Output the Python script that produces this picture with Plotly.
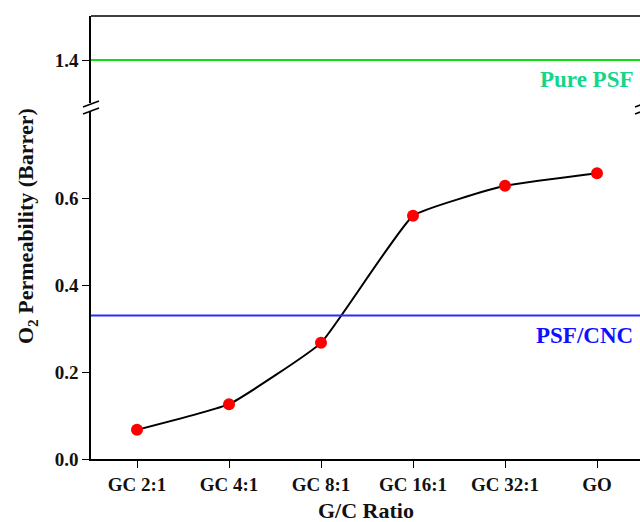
import plotly.graph_objects as go

categories = ["GC 2:1", "GC 4:1", "GC 8:1", "GC 16:1", "GC 32:1", "GO"]
permeability = [0.067, 0.126, 0.267, 0.559, 0.628, 0.657]
pure_psf = 1.4
psf_cnc = 0.33
lower_ticks = [0.0, 0.2, 0.4, 0.6]
upper_ticks = [1.4]

W, H = 640, 522
ml, mr, mt, mb = 91, 0, 16, 63
ph = H - mt - mb
lower_top_px = 111
upper_bot_px = 103
d_low = (H - mb - lower_top_px) / ph
d_up = 1 - (upper_bot_px - mt) / ph

font = "Liberation Serif"
xs = list(range(len(categories)))

fig = go.Figure()
fig.add_trace(go.Scatter(
    x=xs, y=permeability, mode="lines+markers",
    line=dict(color="black", width=2, shape="spline", smoothing=0.35),
    marker=dict(color="red", size=12),
    xaxis="x", yaxis="y", showlegend=False))
fig.add_trace(go.Scatter(
    x=[-0.5, 5.5], y=[psf_cnc, psf_cnc], mode="lines",
    line=dict(color="#2b2bff", width=2), xaxis="x", yaxis="y", showlegend=False))
fig.add_trace(go.Scatter(
    x=[-0.5, 5.5], y=[pure_psf, pure_psf], mode="lines",
    line=dict(color="#11dd11", width=2), xaxis="x2", yaxis="y2", showlegend=False))

xr = [-0.5, -0.5 + (W - ml - mr) / 92.0]
tickfont = dict(family=font, size=19, color="#111", weight="bold")
fig.update_layout(
    width=W, height=H, margin=dict(l=ml, r=mr, t=mt, b=mb),
    plot_bgcolor="white", paper_bgcolor="white",
    xaxis=dict(range=xr, tickmode="array", tickvals=xs, ticktext=categories,
               showline=True, linecolor="black", linewidth=1.5, ticks="outside",
               ticklen=7, tickcolor="black", showgrid=False, zeroline=False,
               tickfont=tickfont, anchor="y"),
    xaxis2=dict(range=xr, overlaying="x", anchor="y2", visible=False, showline=False, ticks=""),
    yaxis=dict(range=[0, (H - mb - lower_top_px) / 435.0], domain=[0, d_low],
               tickmode="array", tickvals=lower_ticks, ticktext=["%.1f" % v for v in lower_ticks],
               showline=True, linecolor="black", linewidth=1.5, ticks="outside", ticklen=7,
               tickcolor="black", showgrid=False, zeroline=False, tickfont=tickfont),
    yaxis2=dict(range=[1.4 - (upper_bot_px - 60) / 435.0, 1.4 + (60 - mt) / 435.0], domain=[d_up, 1],
                tickmode="array", tickvals=upper_ticks, ticktext=["%.1f" % v for v in upper_ticks],
                showline=True, linecolor="black", linewidth=1.5, ticks="outside", ticklen=7,
                tickcolor="black", showgrid=False, zeroline=False, tickfont=tickfont,
                anchor="x2"),
)

# top spine
fig.add_shape(type="line", xref="paper", yref="paper", x0=0, x1=1, y0=1, y1=1,
              line=dict(color="black", width=1.5))

def px_to_paper_x(px):
    return (px - ml) / (W - ml - mr)

def px_to_paper_y(py):
    return (H - mb - py) / ph

for cx in (91, 643):
    for cy in (104, 111):
        fig.add_shape(type="line", xref="paper", yref="paper",
                      x0=px_to_paper_x(cx - 8), y0=px_to_paper_y(cy + 3),
                      x1=px_to_paper_x(cx + 8), y1=px_to_paper_y(cy - 3),
                      line=dict(color="black", width=1.5))

fig.add_annotation(text="Pure PSF", xref="paper", yref="paper",
                   x=px_to_paper_x(635), y=px_to_paper_y(80), xanchor="right", yanchor="middle",
                   showarrow=False, font=dict(family=font, size=23, color="#14d68a", weight="bold"))
fig.add_annotation(text="PSF/CNC", xref="paper", yref="paper",
                   x=px_to_paper_x(635), y=px_to_paper_y(335), xanchor="right", yanchor="middle",
                   showarrow=False, font=dict(family=font, size=23, color="#1010ff", weight="bold"))
fig.add_annotation(text="G/C Ratio", xref="paper", yref="paper",
                   x=px_to_paper_x(366), y=px_to_paper_y(510), xanchor="center", yanchor="middle",
                   showarrow=False, font=dict(family=font, size=22, color="#111", weight="bold"))
fig.add_annotation(text="O<sub>2</sub> Permeability (Barrer)", xref="paper", yref="paper",
                   x=px_to_paper_x(27), y=px_to_paper_y(226), xanchor="center", yanchor="middle",
                   textangle=-90, showarrow=False,
                   font=dict(family=font, size=22, color="#111", weight="bold"))

fig.write_html("out.html")
